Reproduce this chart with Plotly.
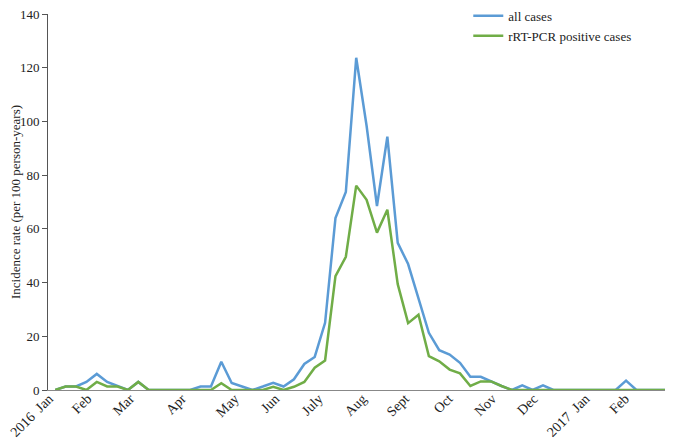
import plotly.graph_objects as go

weeks = list(range(61))

all_cases = [0, 1.3, 1.3, 3.0, 6.0, 3.0, 1.5, 0, 3.0, 0,
             0, 0, 0, 0, 1.3, 1.3, 10.5, 2.6, 1.3, 0,
             1.3, 2.7, 1.3, 4.0, 9.7, 12.3, 25.0, 64.0, 73.7, 123.7,
             98.4, 68.5, 94.3, 54.8, 46.9, 34.2, 21.3, 14.8, 13.2, 10.1,
             4.9, 4.9, 3.1, 1.5, 0, 1.7, 0, 1.7, 0, 0,
             0, 0, 0, 0, 0, 3.5, 0, 0, 0, 0, 0]

pcr_cases = [0, 1.3, 1.3, 0, 3.0, 1.3, 1.3, 0, 3.0, 0,
             0, 0, 0, 0, 0, 0, 2.5, 0, 0, 0,
             0, 1.2, 0, 1.2, 3.0, 8.3, 11.0, 42.4, 49.6, 76.1,
             70.8, 58.6, 67.1, 39.4, 24.9, 28.0, 12.6, 10.7, 7.6, 6.2,
             1.5, 3.2, 3.2, 1.5, 0, 0, 0, 0, 0, 0,
             0, 0, 0, 0, 0, 0, 0, 0, 0, 0, 0]

tick_weeks = [-0.6, 3.1, 7.2, 12.2, 17.3, 21.2, 25.4, 29.6, 33.7, 37.9, 42.1, 46.1, 51.1, 54.9]
tick_labels = ["2016\u00a0\u00a0Jan", "Feb", "Mar", "Apr", "May", "Jun", "July",
               "Aug", "Sept", "Oct", "Nov", "Dec", "2017\u00a0\u00a0Jan", "Feb"]

y_ticks = [0, 20, 40, 60, 80, 100, 120, 140]

font_family = "Liberation Serif, Times New Roman, serif"

fig = go.Figure()
fig.add_trace(go.Scatter(x=weeks, y=all_cases, mode="lines", name="all cases",
                         line=dict(color="#5B9BD5", width=2.5)))
fig.add_trace(go.Scatter(x=weeks, y=pcr_cases, mode="lines", name="rRT-PCR positive cases",
                         line=dict(color="#70AD47", width=2.5)))

fig.update_layout(
    width=673, height=439,
    margin=dict(l=40, r=1, t=6, b=57, autoexpand=False),
    plot_bgcolor="white", paper_bgcolor="white",
    font=dict(family=font_family, size=14, color="#222222"),
    showlegend=True,
    legend=dict(x=0.665, y=1.035, xanchor="left", yanchor="top",
                bgcolor="rgba(0,0,0,0)", font=dict(size=13, family=font_family),
                tracegroupgap=0, itemwidth=30),
    xaxis=dict(range=[-0.7, 60.2], tickmode="array", tickvals=tick_weeks,
               ticktext=tick_labels, tickangle=-45, showgrid=False, zeroline=False,
               showline=True, linecolor="#888888", linewidth=1, ticks="",
               ticklabelstandoff=-6, ticklabeloverflow="allow",
               tickfont=dict(size=14, family=font_family)),
    yaxis=dict(range=[0, 140], tickmode="array", tickvals=y_ticks, showgrid=False,
               zeroline=False, showline=True, linecolor="#555555", linewidth=1,
               ticks="outside", ticklen=5, tickcolor="#555555",
               ticklabeloverflow="allow",
               tickfont=dict(size=13, family=font_family),
               title=dict(text="Incidence rate (per 100 person-years)",
                          font=dict(size=13, family=font_family), standoff=0)),
)

fig.write_html("out.html")
